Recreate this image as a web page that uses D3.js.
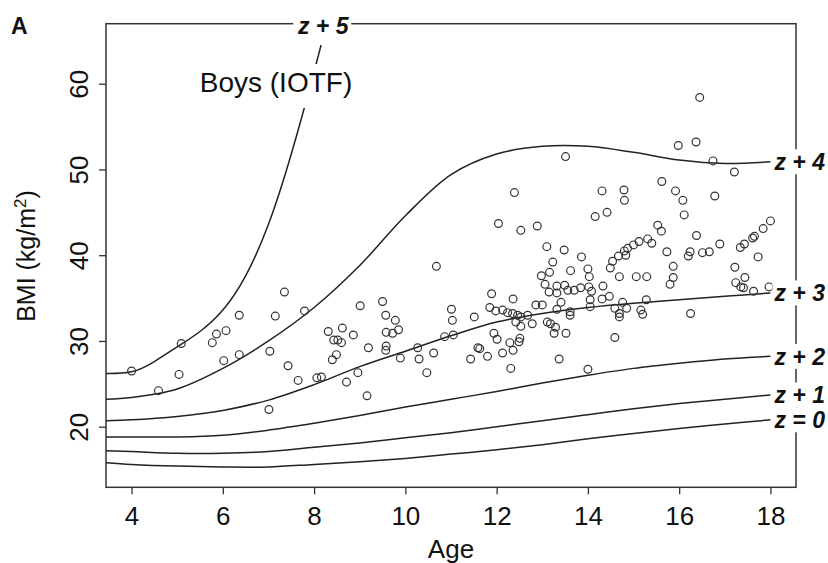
<!DOCTYPE html>
<html>
<head>
<meta charset="utf-8">
<script src="https://cdn.jsdelivr.net/npm/d3@7"></script>
<style>
  body { margin: 0; background: #fff; }
  text { font-family: "Liberation Sans", Arial, sans-serif; fill: #111; }
</style>
</head>
<body>
<svg id="chart" width="828" height="563"></svg>
<script>
// observed children: age and BMI
var ages = [4.00,4.59,5.09,5.04,5.77,5.86,6.07,6.36,6.02,6.36,7.15,7.35,7.79,7.03,7.43,7.65,8.06,8.16,7.01,
  8.31,8.62,8.86,8.43,8.52,8.60,8.49,8.40,9.01,9.19,9.50,9.57,9.78,9.58,9.72,9.85,9.58,9.57,9.89,10.27,10.30,
  10.62,10.86,11.05,11.01,11.03,11.51,10.47,11.43,11.59,8.71,8.96,9.16,10.68,13.51,12.39,12.04,12.53,12.89,
  14.31,14.79,14.80,14.16,14.42,13.10,13.48,13.86,13.23,13.62,14.00,14.03,12.98,13.16,13.06,14.49,14.54,14.67,
  14.80,14.69,14.33,13.32,13.49,13.70,13.84,14.02,13.15,13.32,14.08,13.56,11.89,12.36,11.85,11.98,12.13,12.24,
  12.35,12.46,12.53,12.68,12.42,12.53,12.78,12.86,13.00,13.11,13.18,13.29,13.26,13.52,13.32,13.41,13.61,13.61,
  14.05,14.05,14.31,14.47,14.59,14.69,14.69,14.76,14.85,15.16,15.20,15.28,14.59,11.94,12.01,12.29,12.36,12.49,
  12.51,11.63,11.80,12.13,12.31,13.37,14.00,16.25,16.45,15.98,16.37,16.74,17.21,15.62,15.92,16.08,16.11,16.78,
  15.53,15.61,16.38,18.00,17.84,17.61,17.65,17.43,17.34,16.89,16.51,16.66,16.24,16.20,15.73,17.73,17.22,15.87,
  15.31,15.40,15.12,15.00,14.87,14.83,15.06,15.29,15.87,15.80,17.44,17.24,17.35,17.41,17.63,17.97];
var bmis = [26.5,24.2,29.7,26.1,29.8,30.8,31.2,33.0,27.7,28.4,32.9,35.7,33.5,28.8,27.1,25.4,25.7,25.8,22.0,
  31.1,31.5,30.7,30.1,30.1,29.8,28.4,27.8,34.1,29.2,34.6,33.0,32.4,31.0,30.9,31.3,29.4,28.9,28.0,29.2,27.9,
  28.6,30.5,30.7,33.7,32.4,32.8,26.3,27.9,29.2,25.2,26.3,23.6,38.7,51.5,47.3,43.7,42.9,43.4,
  47.5,47.6,46.4,44.5,45.0,41.0,40.6,39.8,39.2,38.2,38.4,37.5,37.6,38.0,36.6,38.5,39.3,39.9,
  40.5,37.5,36.4,36.4,36.5,35.9,36.2,36.3,35.7,35.6,35.8,35.9,35.5,34.9,33.9,33.5,33.6,33.3,
  33.2,33.0,32.8,33.0,32.2,31.7,32.0,34.2,34.2,32.2,32.0,31.6,30.9,30.9,33.7,34.5,33.4,33.0,
  34.8,34.0,34.9,35.2,33.8,33.2,32.8,34.5,33.8,33.6,33.1,34.8,30.4,30.9,30.2,29.8,28.9,29.9,
  30.3,29.1,28.2,28.6,26.8,27.9,26.7,33.2,58.4,52.8,53.2,51.0,49.7,48.6,47.5,46.4,44.7,46.9,
  43.5,42.8,42.3,44.0,43.1,42.0,42.2,41.3,40.9,41.3,40.3,40.4,40.4,39.9,40.4,39.8,38.6,38.7,
  41.9,41.4,41.6,41.2,40.8,40.0,37.5,37.5,37.4,36.6,37.4,36.8,36.3,36.2,35.8,36.3];

// IOTF reference curves
var curveAges = [3.43,4,5,6,7,8,9,10,11,12,13,14,15,16,17,18];
var z0 = [15.8,15.6,15.4,15.3,15.3,15.6,15.9,16.3,16.8,17.3,17.9,18.6,19.2,19.8,20.3,20.8];
var z1 = [17.2,17.1,16.9,16.9,17.1,17.6,18.1,18.7,19.3,20.0,20.7,21.4,22.1,22.7,23.2,23.7];
var z2 = [18.8,18.8,18.8,19.0,19.6,20.4,21.3,22.3,23.2,24.1,25.1,26.0,26.8,27.4,27.9,28.2];
var z3 = [20.7,20.8,21.2,21.9,23.1,24.9,27.0,28.8,30.6,32.2,33.2,33.9,34.4,34.8,35.2,35.6];
var z4 = [23.2,23.4,24.4,26.8,30.0,33.9,38.8,44.6,49.4,51.8,52.7,52.7,52.0,51.1,50.7,50.9];
var z5Ages = [3.43,4,4.5,5,5.5,6,6.5,7,7.5,8,8.3];
var z5 = [26.2,26.4,27.6,29.3,31.1,33.6,37.6,43.6,51.8,61.4,67.6];
var curveLabels = ["z = 0", "z + 1", "z + 2", "z + 3", "z + 4"];
var xTicks = [4, 6, 8, 10, 12, 14, 16, 18];
var yTicks = [20, 30, 40, 50, 60];

var svg = d3.select('#chart');
var x = d3.scaleLinear().domain([3.44, 18.56]).range([106, 796]);
var y = d3.scaleLinear().domain([12.93, 67.0]).range([487.3, 23.7]);

svg.append('clipPath').attr('id', 'plotclip')
  .append('rect')
  .attr('x', 106).attr('y', 23.7)
  .attr('width', 690).attr('height', 487.3 - 23.7);

var line = d3.line()
  .x(function(d) { return x(d[0]); })
  .y(function(d) { return y(d[1]); })
  .curve(d3.curveCatmullRom);

var curves = [z0, z1, z2, z3, z4];
var g = svg.append('g').attr('clip-path', 'url(#plotclip)');
curves.forEach(function(c) {
  g.append('path')
    .attr('d', line(d3.zip(curveAges, c)))
    .attr('fill', 'none').attr('stroke', '#222').attr('stroke-width', 1.5);
});
g.append('path')
  .attr('d', line.curve(d3.curveNatural)(d3.zip(z5Ages, z5)))
  .attr('fill', 'none').attr('stroke', '#222').attr('stroke-width', 1.5);

// points
svg.append('g').selectAll('circle')
  .data(d3.zip(ages, bmis))
  .enter().append('circle')
  .attr('cx', function(d) { return x(d[0]); })
  .attr('cy', function(d) { return y(d[1]); })
  .attr('r', 3.9)
  .attr('fill', 'none')
  .attr('stroke', '#333')
  .attr('stroke-width', 1.2);

// box
svg.append('rect')
  .attr('x', 106).attr('y', 23.7)
  .attr('width', 690).attr('height', 487.3 - 23.7)
  .attr('fill', 'none').attr('stroke', '#333').attr('stroke-width', 1.5);

// axes
var xAxis = svg.append('g')
  .attr('transform', 'translate(0,487.3)')
  .call(d3.axisBottom(x).tickValues(xTicks).tickSize(7).tickFormat(d3.format('d')));
xAxis.select('.domain').remove();
xAxis.selectAll('line').attr('stroke', '#333').attr('stroke-width', 1.3);
xAxis.selectAll('text').attr('y', 37.5).attr('dy', 0)
  .style('font-size', '26px').style('font-family', '"Liberation Sans", Arial, sans-serif').attr('fill', '#111');

var yAxis = svg.append('g')
  .attr('transform', 'translate(106,0)')
  .call(d3.axisLeft(y).tickValues(yTicks).tickSize(7));
yAxis.select('.domain').remove();
yAxis.selectAll('line').attr('stroke', '#333').attr('stroke-width', 1.3);
yAxis.selectAll('text')
  .attr('transform', 'rotate(-90)')
  .attr('x', 0).attr('y', -18.5).attr('dy', 0)
  .attr('text-anchor', 'middle')
  .style('font-size', '26px').style('font-family', '"Liberation Sans", Arial, sans-serif').attr('fill', '#111');

// axis titles
svg.append('text')
  .attr('x', 451).attr('y', 558)
  .attr('text-anchor', 'middle')
  .style('font-size', '26px')
  .text('Age');

var yt = svg.append('text')
  .attr('transform', 'translate(35,256) rotate(-90)')
  .attr('text-anchor', 'middle')
  .style('font-size', '25px');
yt.append('tspan').text('BMI (kg/m');
yt.append('tspan').attr('dy', -9).style('font-size', '17px').text('2');
yt.append('tspan').attr('dy', 9).text(')');

svg.append('text')
  .attr('x', 11).attr('y', 34)
  .style('font-size', '23px').style('font-weight', 'bold')
  .text('A');

// curve labels on the right edge
curves.forEach(function(c, i) {
  var lg = svg.append('g')
    .attr('transform', 'translate(' + (x(18) + 2) + ',' + y(c[c.length - 1]) + ')');
  lg.append('rect')
    .attr('x', 0).attr('y', -12.5).attr('width', 60).attr('height', 25)
    .attr('fill', '#fff');
  lg.append('text')
    .attr('x', 2).attr('dy', '0.36em')
    .style('font-size', '23px').style('font-weight', 'bold').style('font-style', 'italic')
    .text(curveLabels[i]);
});

// z + 5 at the top and the Boys (IOTF) caption
var topX = x(8.2);
svg.append('rect')
  .attr('x', topX - 30).attr('y', 4).attr('width', 58).attr('height', 41)
  .attr('fill', '#fff');
svg.append('text')
  .attr('x', topX).attr('y', 25.7).attr('dy', '0.36em')
  .attr('text-anchor', 'middle')
  .style('font-size', '23px').style('font-weight', 'bold').style('font-style', 'italic')
  .text('z + 5');

svg.append('rect')
  .attr('x', 196).attr('y', 64).attr('width', 160).attr('height', 44)
  .attr('fill', '#fff');
svg.append('text')
  .attr('x', 276).attr('y', 92)
  .attr('text-anchor', 'middle')
  .style('font-size', '28px')
  .text('Boys (IOTF)');
</script>
</body>
</html>
